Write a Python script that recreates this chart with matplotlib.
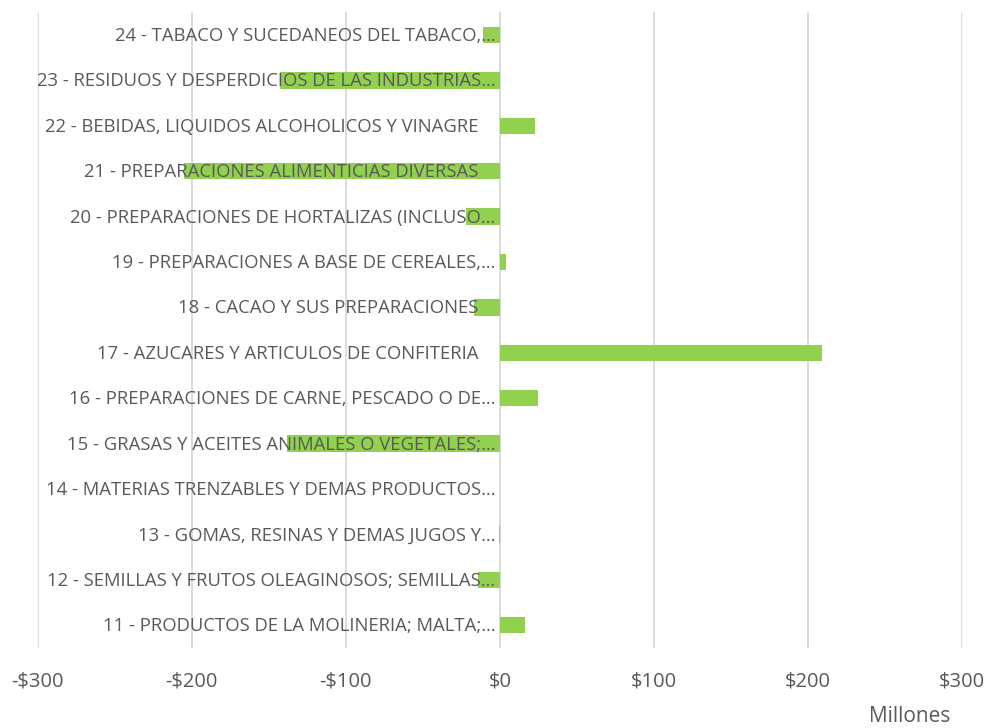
import numpy as np
import matplotlib.pyplot as plt
from matplotlib.ticker import FuncFormatter

# capitulos (de abajo hacia arriba) y valores en millones
capitulos = [
    '11 - PRODUCTOS DE LA MOLINERIA; MALTA;…',
    '12 - SEMILLAS Y FRUTOS OLEAGINOSOS; SEMILLAS…',
    '13 - GOMAS, RESINAS Y DEMAS JUGOS Y…',
    '14 - MATERIAS TRENZABLES Y DEMAS PRODUCTOS…',
    '15 - GRASAS Y ACEITES ANIMALES O VEGETALES;…',
    '16 - PREPARACIONES DE CARNE, PESCADO O DE…',
    '17 - AZUCARES Y ARTICULOS DE CONFITERIA',
    '18 - CACAO Y SUS PREPARACIONES',
    '19 - PREPARACIONES A BASE DE CEREALES,…',
    '20 - PREPARACIONES DE HORTALIZAS (INCLUSO…',
    '21 - PREPARACIONES ALIMENTICIAS DIVERSAS',
    '22 - BEBIDAS, LIQUIDOS ALCOHOLICOS Y VINAGRE',
    '23 - RESIDUOS Y DESPERDICIOS DE LAS INDUSTRIAS…',
    '24 - TABACO Y SUCEDANEOS DEL TABACO,…',
]
valores = [16, -14, -0.8, 0, -138, 24.5, 209, -17, 4, -22, -205, 23, -143, -11]

gris = '#595959'
plt.rcParams['font.family'] = ['Open Sans', 'DejaVu Sans']

fig = plt.figure(figsize=(9.9, 7.28), dpi=100)
ax = fig.add_axes([0.038, 0.110, 0.934, 0.873])

y = np.arange(len(capitulos))
ax.barh(y, valores, height=0.36, color='#92D050', zorder=2)

# etiquetas encima de las barras, alineadas a la derecha junto al cero
for i, lab in enumerate(capitulos):
    xpos = -3 if lab.endswith('…') else -14
    ax.text(xpos, i - 0.02, lab, ha='right', va='center', fontsize=13.3, color=gris, zorder=3)

ax.set_xlim(-300, 300)
ax.set_ylim(-0.5, len(capitulos) - 0.5)
ax.set_xticks([-300, -200, -100, 0, 100, 200, 300])
ax.xaxis.set_major_formatter(FuncFormatter(lambda v, p: ('-$%d' % abs(v)) if v < 0 else '$%d' % v))
ax.tick_params(axis='x', length=0, pad=17, labelsize=14.5, labelcolor=gris)
ax.set_yticks([])
ax.grid(True, axis='x', color='#D9D9D9', linewidth=1.3, zorder=0)
for s in ax.spines.values():
    s.set_visible(False)

fig.text(0.919, 0.002, 'Millones', ha='center', va='bottom', fontsize=15, color=gris)

plt.savefig('out.png', dpi=100)
